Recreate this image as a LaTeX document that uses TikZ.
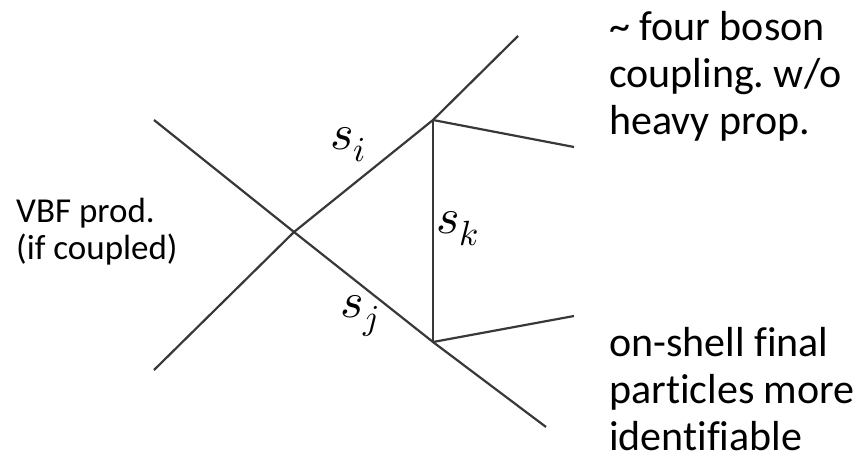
\documentclass[tikz,border=0pt]{standalone}
\usepackage{fontspec}
\setmainfont{Carlito}[Ligatures=NoCommon]
\usepackage{unicode-math}
\setmathfont{Latin Modern Math}
\frenchspacing
\begin{document}
\begin{tikzpicture}[x=1pt,y=-1pt,
  leg/.style={draw=black!78,line width=2.2pt},
  note/.style={inner sep=0pt,anchor=base west,align=left,font=\fontsize{42}{47}\selectfont},
  side/.style={inner sep=0pt,anchor=base west,align=left,font=\fontsize{35}{37}\selectfont},
  mlab/.style={inner sep=0pt,anchor=base west,font=\fontsize{50}{50}\selectfont}]
\useasboundingbox (0,0) rectangle (859,455);
% vertices
\coordinate (ul) at (154,120);
\coordinate (ll) at (154,370);
\coordinate (c) at (294,232);
\coordinate (t) at (433,120);
\coordinate (b) at (433,342);
\coordinate (ur) at (518,36);
\coordinate (lr) at (546,427);
\coordinate (tr) at (574,147);
\coordinate (br) at (574,316);
% lines
\draw[leg] (ul) -- (c) -- (b) -- (lr);
\draw[leg] (ll) -- (c) -- (t) -- (ur);
\draw[leg] (t) -- (b);
\draw[leg] (t) -- (tr);
\draw[leg] (b) -- (br);
% math labels
\node[mlab] (si) at (330,149) {$s_i$};
\node[mlab] (sj) at (340,317) {$s_j$};
\node[mlab] (sk) at (436,233) {$s_k$};
% notes
\node[note] (top) at (609,134) {\char"007E{} four boson\\coupling. w/o\\heavy prop.};
\node[note] (bot) at (609,450) {on-shell final\\particles more\\identifiable};
\node[side] (vbf) at (16,259) {VBF prod.\\(if coupled)};
\end{tikzpicture}
\end{document}
